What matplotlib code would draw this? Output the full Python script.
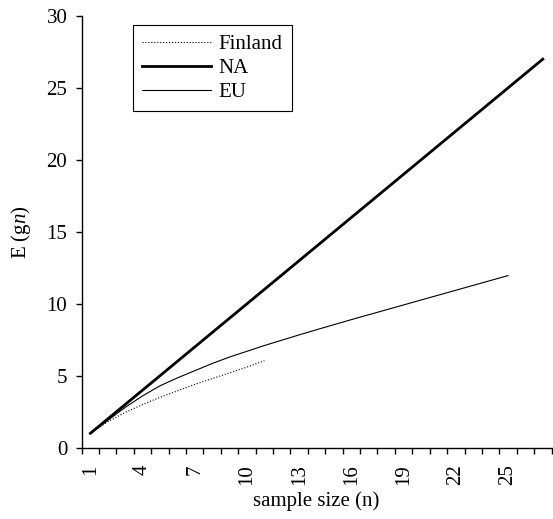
import numpy as np
import matplotlib
matplotlib.use("Agg")
import matplotlib.pyplot as plt
from matplotlib.ticker import FixedLocator

plt.rcParams['font.family'] = ['Liberation Serif', 'DejaVu Serif']
plt.rcParams['mathtext.fontset'] = 'custom'
plt.rcParams['mathtext.rm'] = 'Liberation Serif'
plt.rcParams['mathtext.it'] = 'Liberation Serif:italic'

# sample sizes (category axis)
n_na = list(range(1, 28))
n_eu = list(range(1, 26))
n_fin = list(range(1, 12))

# expected values E(gn)
na = [float(v) for v in n_na]
eu = [1.0, 1.9, 2.8, 3.6, 4.3, 4.85, 5.35, 5.85, 6.3, 6.7, 7.1, 7.47, 7.84,
      8.2, 8.55, 8.9, 9.24, 9.58, 9.92, 10.26, 10.6, 10.94, 11.28, 11.62, 11.96]
finland = [1.0, 1.8, 2.45, 3.0, 3.5, 3.95, 4.4, 4.8, 5.2, 5.6, 6.05]

xtick_labels = [1, 4, 7, 10, 13, 16, 19, 22, 25]

fig = plt.figure(figsize=(5.53, 5.19), dpi=100)
ax = fig.add_axes([0.1477, 0.1374, 0.8496, 0.8318])

ax.plot(n_fin, finland, color='black', linestyle=':', linewidth=0.8, label='Finland')
ax.plot(n_na, na, color='black', linestyle='-', linewidth=2.0, label='NA')
ax.plot(n_eu, eu, color='black', linestyle='-', linewidth=0.8, label='EU')

ax.set_xlim(0.5, 27.5)
ax.set_ylim(0, 30)
ax.set_yticks(np.arange(0, 31, 5))

# category axis: tick marks between categories, labels on categories
ax.set_xticks(xtick_labels)
ax.set_xticklabels([str(v) for v in xtick_labels], rotation=90)
ax.xaxis.set_minor_locator(FixedLocator(np.arange(0.5, 27.6, 1.0)))
ax.tick_params(axis='x', which='major', length=0, pad=12, labelsize=15)
ax.tick_params(axis='x', which='minor', length=4.3, width=1, direction='out')
ax.tick_params(axis='y', length=4.3, width=1, direction='out', pad=6, labelsize=15)

for s in ['top', 'right']:
    ax.spines[s].set_visible(False)
for s in ['left', 'bottom']:
    ax.spines[s].set_linewidth(1)

ax.set_xlabel('sample size (n)', fontsize=15, labelpad=4)
ax.set_ylabel(r'E (g$\it{n}$)', fontsize=15, labelpad=10)

leg = ax.legend(loc='upper left', bbox_to_anchor=(0.109, 0.978), borderaxespad=0,
                fontsize=15, handlelength=3.3, handletextpad=0.35, fancybox=False,
                edgecolor='black', framealpha=1, borderpad=0.45, labelspacing=0.2)
leg.get_frame().set_linewidth(0.8)

fig.savefig('out.png', dpi=100)
